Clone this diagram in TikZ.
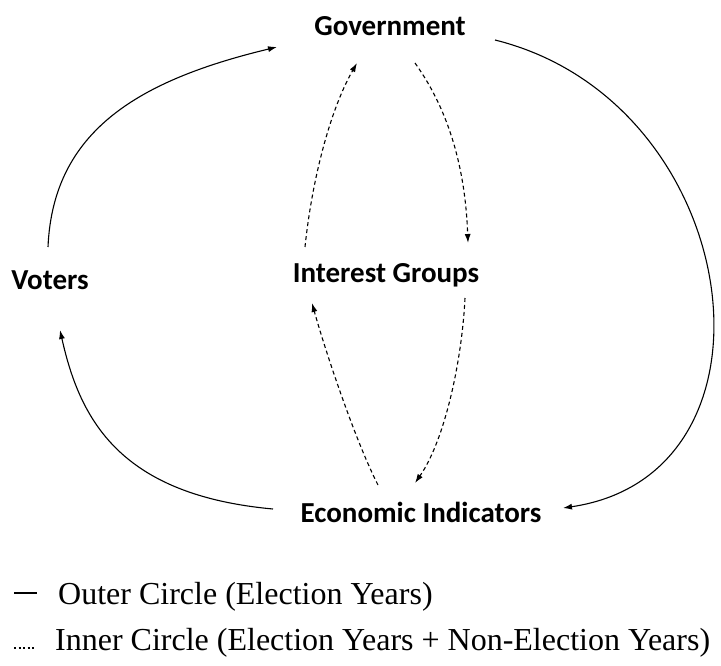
\documentclass[tikz,border=0pt]{standalone}
\usepackage{fontspec}
\setmainfont{Liberation Serif}
\newfontfamily\labelfont{Carlito}
\usetikzlibrary{arrows.meta}
\usetikzlibrary{calc}
\tikzset{label/.style = {font=\labelfont\bfseries\fontsize{29}{34}\selectfont, inner sep=0pt},
         key/.style = {font=\fontsize{32}{37}\selectfont, inner sep=0pt},
         outer/.style = {line width=1.1pt, -{Latex[length=9pt,width=6pt]}},
         inner/.style = {line width=1.1pt, dash pattern=on 4pt off 3pt, -{Latex[length=9pt,width=6pt]}}}

\begin{document}
\begin{tikzpicture}[x=1pt, y=-1pt]
      \useasboundingbox (0, 0) rectangle (721, 666);
      \node [label, anchor = base] (gov) at (390, 36) {Government};
      \node [label, anchor = base] (voters) at (50, 290) {Voters};
      \node [label, anchor = base] (groups) at (386, 282) {Interest Groups};
      \node [label, anchor = base] (econ) at (421, 522) {Economic Indicators};

      % outer circle
      \draw [outer] ($(voters.base) + (-2, -43)$) .. controls +(5, -117) and +(-137, 33) .. ($(gov.base) + (-113, 11)$);
      \draw [outer] ($(gov.base) + (105, 4)$) .. controls +(250, 62) and +(232, -34) .. ($(econ.base) + (142, -14)$);
      \draw [outer] ($(econ.base) + (-148, -13)$) .. controls +(-153, -14) and +(20, 90) .. ($(voters.base) + (10, 40)$);

      % inner circle
      \draw [inner] ($(groups.base) + (-81, -35)$) .. controls +(7, -67) and +(-27, 47) .. ($(gov.base) + (-33, 27)$);
      \draw [inner] ($(gov.base) + (25, 27)$) .. controls +(30, 42) and +(-3, -83) .. ($(groups.base) + (82, -39)$);
      \draw [inner] ($(groups.base) + (79, 16)$) .. controls +(-3, 62) and +(30, -43) .. ($(econ.base) + (-6, -39)$);
      \draw [inner] ($(econ.base) + (-43, -37)$) .. controls +(-23, -45) and +(13, 47) .. ($(groups.base) + (-74, 21)$);

      % key
      \node [key, anchor = base west] (outerkey) at (58, 604) {Outer Circle (Election Years)};
      \node [key, anchor = base west] (innerkey) at (55, 650) {Inner Circle (Election Years + Non-Election Years)};
      \draw [line width=2.5pt] ($(outerkey.base west) + (-44, -11)$) -- ($(outerkey.base west) + (-21, -11)$);
      \draw [line width=2pt, dash pattern=on 2pt off 2.5pt] ($(innerkey.base west) + (-41, -2)$) -- ($(innerkey.base west) + (-19, -2)$);
    \end{tikzpicture}
\end{document}
